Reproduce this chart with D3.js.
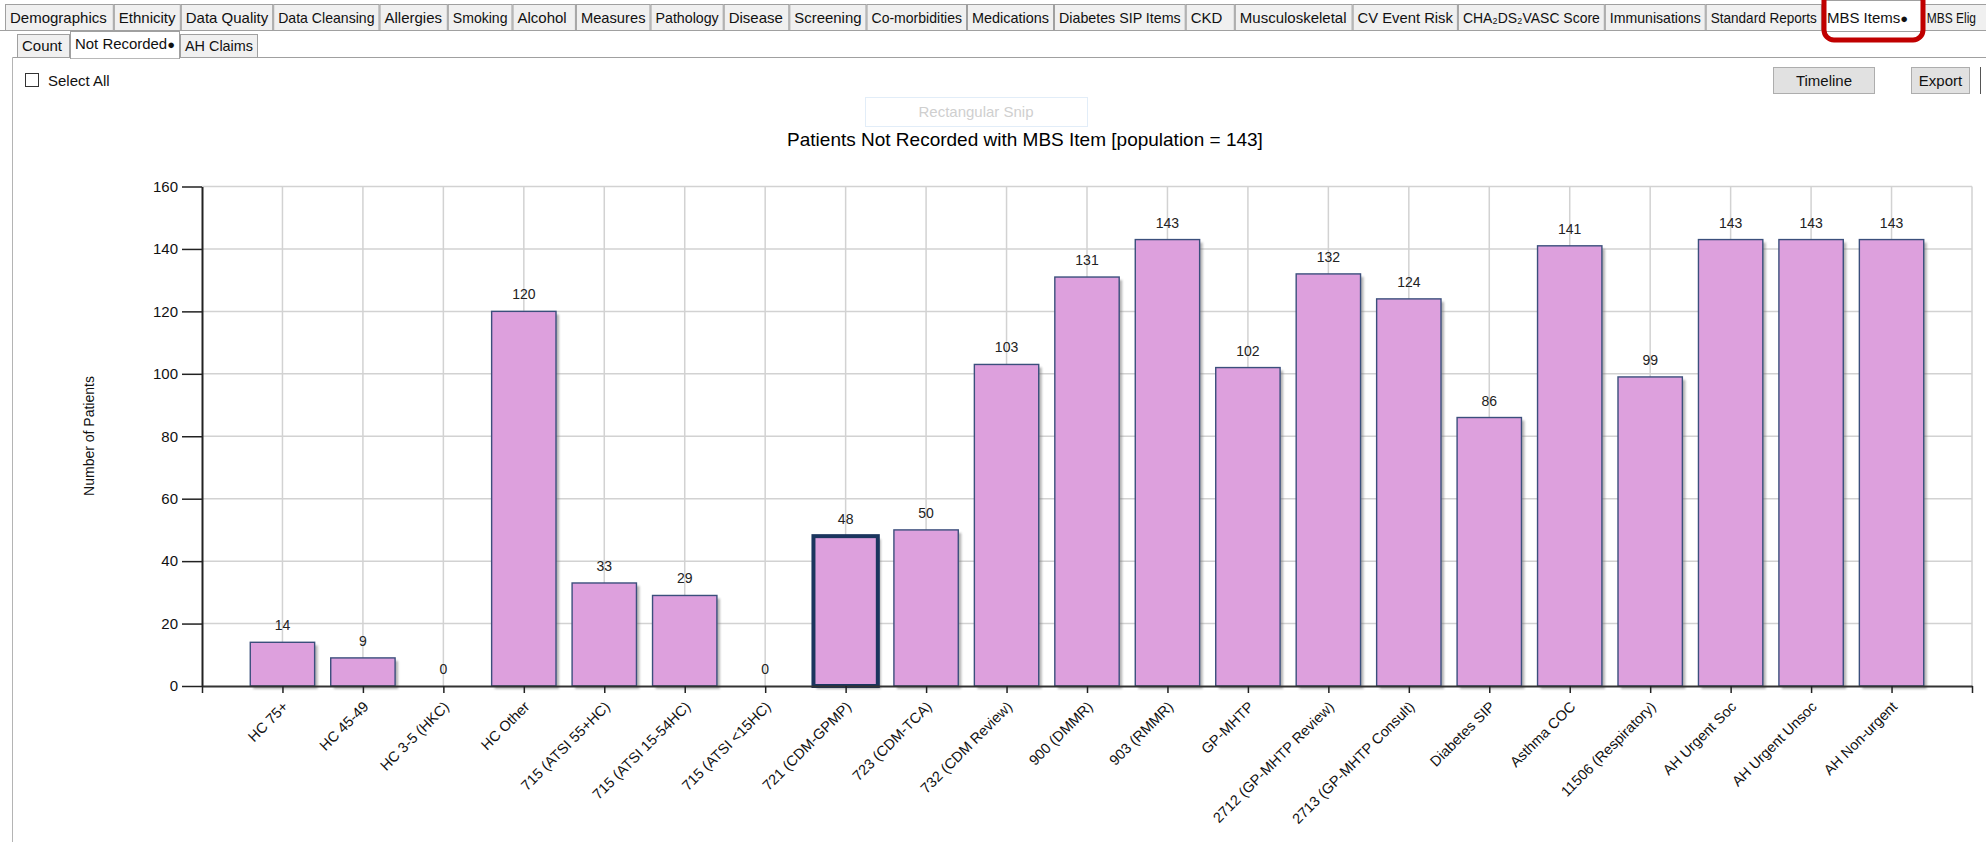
<!DOCTYPE html>
<html>
<head>
<meta charset="utf-8">
<script src="https://cdn.jsdelivr.net/npm/d3@7"></script>
<style>
  body { margin: 0; background: #fff; }
  svg { display: block; font-family: "Liberation Sans", Arial, sans-serif; }
  .ui { font-family: "Liberation Sans", Arial, sans-serif; font-size: 15px; fill: #111; }
</style>
</head>
<body>
<svg id="chart" width="1986" height="842"></svg>
<script>
// chart data
const categories = [
  "HC 75+", "HC 45-49", "HC 3-5 (HKC)", "HC Other", "715 (ATSI 55+HC)",
  "715 (ATSI 15-54HC)", "715 (ATSI <15HC)", "721 (CDM-GPMP)", "723 (CDM-TCA)",
  "732 (CDM Review)", "900 (DMMR)", "903 (RMMR)", "GP-MHTP", "2712 (GP-MHTP Review)",
  "2713 (GP-MHTP Consult)", "Diabetes SIP", "Asthma COC", "11506 (Respiratory)",
  "AH Urgent Soc", "AH Urgent Unsoc", "AH Non-urgent"
];
const values = [14, 9, 0, 120, 33, 29, 0, 48, 50, 103, 131, 143, 102, 132, 124, 86, 141, 99, 143, 143, 143];
const yTicks = [0, 20, 40, 60, 80, 100, 120, 140, 160];
const selectedCategory = "721 (CDM-GPMP)";
const chartTitle = "Patients Not Recorded with MBS Item [population = 143]";
const yTitle = "Number of Patients";

// window chrome
const topTabs = [
  "Demographics", "Ethnicity", "Data Quality", "Data Cleansing", "Allergies", "Smoking",
  "Alcohol", "Measures", "Pathology", "Disease", "Screening", "Co-morbidities", "Medications",
  "Diabetes SIP Items", "CKD", "Musculoskeletal", "CV Event Risk", "CHA\u2082DS\u2082VASC Score",
  "Immunisations", "Standard Reports", "MBS Items", "MBS Elig"
];
const topTabEdges = [5, 113.8, 180.8, 273.2, 379.5, 447.8, 512.5, 575.9, 650.5, 723.7, 789.3,
  866.5, 967, 1054, 1185.7, 1234.8, 1352.6, 1457.9, 1604.8, 1705.7, 1821.9, 1922.8, 1986];
const subTabs = ["Count", "Not Recorded", "AH Claims"];
const subTabEdges = [17, 70, 180, 258];
const dirtyTabs = ["MBS Items", "Not Recorded"];

const svg = d3.select("#chart");
const W = 1986, H = 842;

// fit a label into a box only when it would overflow
const fitText = (sel, maxW) => {
  const len = sel.node().getComputedTextLength();
  if (len > maxW) sel.attr("textLength", maxW).attr("lengthAdjust", "spacingAndGlyphs");
};
const tabLabel = (sel, t) => {
  sel.append("tspan").text(t);
  if (dirtyTabs.includes(t)) sel.append("tspan").attr("font-size", 13).text("\u25CF");
};

// ---- tabs ----
const tabY0 = 4, tabY1 = 30;
svg.append("line").attr("x1", 0).attr("x2", W).attr("y1", tabY1 + 0.5).attr("y2", tabY1 + 0.5)
  .attr("stroke", "#a0a0a0");

topTabs.forEach((t, i) => {
  const x0 = topTabEdges[i], x1 = topTabEdges[i + 1];
  const sel = t === "MBS Items";
  const last = i === topTabs.length - 1;
  svg.append("rect")
    .attr("x", x0 + 0.5).attr("y", sel ? 0.5 : tabY0 + 0.5)
    .attr("width", last ? x1 - x0 + 4 : x1 - x0 - 1).attr("height", sel ? tabY1 + 1 : tabY1 - tabY0)
    .attr("fill", sel ? "#fff" : "#f0f0f0").attr("stroke", "#a0a0a0");
  const txt = svg.append("text").attr("class", "ui")
    .attr("x", x0 + (last ? 4 : 5)).attr("y", 18).attr("dy", "0.35em");
  if (last) txt.attr("font-size", 13.5);
  tabLabel(txt, t);
  fitText(txt, x1 - x0 - (last ? 14 : 10));
});

// panel lines
svg.append("line").attr("x1", 12.5).attr("x2", W).attr("y1", 57.5).attr("y2", 57.5).attr("stroke", "#a0a0a0");
svg.append("line").attr("x1", 12.5).attr("x2", 12.5).attr("y1", 57.5).attr("y2", H).attr("stroke", "#b4b4b4");

subTabs.forEach((t, i) => {
  const x0 = subTabEdges[i], x1 = subTabEdges[i + 1];
  const sel = i === 1;
  svg.append("rect")
    .attr("x", x0 + 0.5).attr("y", sel ? 31.5 : 34.5)
    .attr("width", x1 - x0 - 1).attr("height", sel ? 27 : 23)
    .attr("fill", sel ? "#fff" : "#f0f0f0").attr("stroke", "#a0a0a0");
  const txt = svg.append("text").attr("class", "ui")
    .attr("x", x0 + 5).attr("y", sel ? 44 : 46).attr("dy", "0.35em");
  tabLabel(txt, t);
  fitText(txt, x1 - x0 - 10);
});
// cover the line under the selected sub tab
svg.append("line").attr("x1", subTabEdges[1] + 1).attr("x2", subTabEdges[2] - 1)
  .attr("y1", 57.5).attr("y2", 57.5).attr("stroke", "#fff").attr("stroke-width", 1.5);

// select all
svg.append("rect").attr("x", 25.5).attr("y", 73.5).attr("width", 13).attr("height", 13)
  .attr("fill", "#fff").attr("stroke", "#333");
svg.append("text").attr("class", "ui").attr("x", 48).attr("y", 81).attr("dy", "0.35em").text("Select All");

// buttons
[["Timeline", 1773.5, 1874.5], ["Export", 1911.5, 1969.5]].forEach(([t, a, b]) => {
  svg.append("rect").attr("x", a).attr("y", 67.5).attr("width", b - a).attr("height", 26)
    .attr("fill", "#e1e1e1").attr("stroke", "#adadad");
  svg.append("text").attr("class", "ui").attr("x", (a + b) / 2).attr("y", 81).attr("dy", "0.35em")
    .attr("text-anchor", "middle").text(t);
});
svg.append("line").attr("x1", 1980.5).attr("x2", 1980.5).attr("y1", 67).attr("y2", 94).attr("stroke", "#555");

// snip ghost
svg.append("rect").attr("x", 865.5).attr("y", 97.5).attr("width", 222).attr("height", 29)
  .attr("fill", "#fff").attr("stroke", "#e2edf8");
svg.append("text").attr("x", 976).attr("y", 112).attr("dy", "0.35em").attr("text-anchor", "middle")
  .attr("class", "ui").style("fill", "#cfcfcf")
  .text("Rectangular Snip");

// red highlight
svg.append("rect").attr("x", 1824).attr("y", -20).attr("width", 99).attr("height", 60)
  .attr("rx", 10).attr("fill", "none").attr("stroke", "#c00000").attr("stroke-width", 5);

// ---- chart ----
svg.append("text").attr("x", 1025).attr("y", 139).attr("dy", "0.35em")
  .attr("text-anchor", "middle").attr("font-size", 19).attr("fill", "#000").text(chartTitle);

const xScale = d3.scaleLinear().domain([0, categories.length + 1]).range([202, 1972]);
const yScale = d3.scaleLinear().domain([0, 160]).range([686, 186.5]);
const band = xScale(1) - xScale(0);
const barW = band * 0.8;

const defs = svg.append("defs");
defs.append("filter").attr("id", "blur").append("feGaussianBlur").attr("stdDeviation", 1.2);

// grid
const grid = svg.append("g");
grid.selectAll("line.h").data(yTicks.filter(d => d > 0)).enter().append("line")
  .attr("x1", xScale(0)).attr("x2", xScale(categories.length + 1))
  .attr("y1", d => yScale(d)).attr("y2", d => yScale(d))
  .attr("stroke", "#d2d2d2").attr("stroke-width", 1.5);
grid.selectAll("line.v").data(d3.range(1, categories.length + 2)).enter().append("line")
  .attr("x1", d => xScale(d)).attr("x2", d => xScale(d))
  .attr("y1", yScale(160)).attr("y2", yScale(0))
  .attr("stroke", "#d2d2d2").attr("stroke-width", 1.5);

// bars
const bars = svg.append("g");
bars.selectAll("rect.shadow").data(values).enter().append("rect")
  .attr("x", (d, i) => xScale(i + 1) - barW / 2 + 3)
  .attr("y", d => yScale(d) + 3)
  .attr("width", barW).attr("height", d => yScale(0) - yScale(d))
  .attr("fill", "#777").attr("opacity", d => d > 0 ? 0.55 : 0).attr("filter", "url(#blur)");
bars.selectAll("rect.bar").data(values).enter().append("rect")
  .attr("x", (d, i) => xScale(i + 1) - barW / 2)
  .attr("y", d => yScale(d))
  .attr("width", barW).attr("height", d => yScale(0) - yScale(d))
  .attr("fill", "#dda0dd")
  .attr("stroke", (d, i) => categories[i] === selectedCategory ? "#1b355e" : "#3b4f7c")
  .attr("stroke-width", (d, i) => categories[i] === selectedCategory ? 4 : 1.4)
  .attr("opacity", d => d > 0 ? 1 : 0);

// value labels
bars.selectAll("text").data(values).enter().append("text")
  .attr("x", (d, i) => xScale(i + 1))
  .attr("y", d => yScale(d) - 12)
  .attr("text-anchor", "middle").attr("font-size", 14).attr("fill", "#222")
  .text(d => d);

// axes
const yAxis = d3.axisLeft(yScale).tickValues(yTicks).tickSize(20).tickSizeOuter(0).tickPadding(4);
const gy = svg.append("g").attr("transform", `translate(${xScale(0)},0)`).call(yAxis);
gy.select(".domain").attr("stroke", "#222").attr("stroke-width", 2);
gy.selectAll(".tick line").attr("stroke", "#222").attr("stroke-width", 1.5);
gy.selectAll(".tick text").attr("font-size", 15).attr("fill", "#111")
  .attr("font-family", "Liberation Sans, Arial, sans-serif");

const xAxis = d3.axisBottom(xScale).tickValues(d3.range(0, categories.length + 2))
  .tickSize(7).tickSizeOuter(0).tickFormat("");
const gx = svg.append("g").attr("transform", `translate(0,${yScale(0)})`).call(xAxis);
gx.select(".domain").attr("stroke", "#333").attr("stroke-width", 2);
gx.selectAll(".tick line").attr("stroke", "#222").attr("stroke-width", 1.5);

const xl = svg.append("g");
categories.forEach((c, i) => {
  xl.append("text")
    .attr("transform", `translate(${xScale(i + 1) + 3},${yScale(0) + 18}) rotate(-45)`)
    .attr("text-anchor", "end").attr("dy", "0.35em")
    .attr("font-size", 14.5).attr("fill", "#111").text(c);
});

svg.append("text").attr("transform", "translate(89,436) rotate(-90)")
  .attr("text-anchor", "middle").attr("dy", "0.35em").attr("font-size", 14).attr("fill", "#111")
  .text(yTitle);
</script>
</body>
</html>
